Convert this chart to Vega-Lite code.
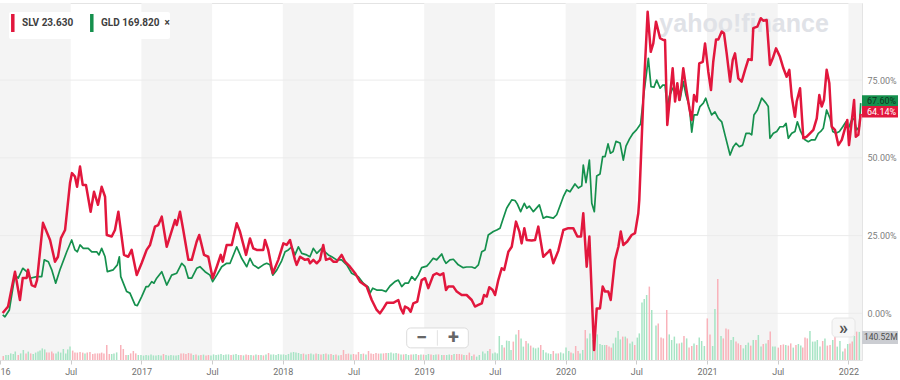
{
"$schema": "https://vega.github.io/schema/vega-lite/v6.json",
"width": 862, "height": 357,
"autosize": {"type": "none"},
"padding": {"left": 0, "top": 3, "right": 38, "bottom": 20},
"background": "white",
"config": {"view": {"stroke": "#e4e4e4"}, "font": "Roboto", "scale": {"continuousPadding": 0}},
"datasets": {
"bands": [{"t":2016,"t2":2016.5},{"t":2017,"t2":2017.5},{"t":2018,"t2":2018.5},{"t":2019,"t2":2019.5},{"t":2020,"t2":2020.5},{"t":2021,"t2":2021.5},{"t":2022,"t2":2022.5}],
"grid": [{"p":0},{"p":25},{"p":50},{"p":75}],
"tags": [{"s":"GLD","t":2022.096,"p":67.6,"label":"67.60%"},{"s":"SLV","t":2022.096,"p":64.14,"label":"64.14%"}],
"voltag": [{"t":2022.096,"v":140.52,"label":"140.52M"}],
"px": [
{"s":"SLV","t":2016.019,"p":0.1},{"s":"SLV","t":2016.057,"p":2.2},{"s":"SLV","t":2016.106,"p":13.4},{"s":"SLV","t":2016.141,"p":4.3},{"s":"SLV","t":2016.161,"p":11.4},{"s":"SLV","t":2016.189,"p":11.4},{"s":"SLV","t":2016.198,"p":14.0},{"s":"SLV","t":2016.224,"p":9.1},{"s":"SLV","t":2016.248,"p":8.6},{"s":"SLV","t":2016.262,"p":10.7},{"s":"SLV","t":2016.304,"p":29.1},{"s":"SLV","t":2016.354,"p":23.6},{"s":"SLV","t":2016.389,"p":16.6},{"s":"SLV","t":2016.410,"p":18.2},{"s":"SLV","t":2016.431,"p":24.2},{"s":"SLV","t":2016.460,"p":26.8},{"s":"SLV","t":2016.495,"p":41.9},{"s":"SLV","t":2016.509,"p":45.1},{"s":"SLV","t":2016.530,"p":44.0},{"s":"SLV","t":2016.545,"p":40.7},{"s":"SLV","t":2016.566,"p":47.2},{"s":"SLV","t":2016.585,"p":41.3},{"s":"SLV","t":2016.608,"p":41.3},{"s":"SLV","t":2016.641,"p":32.7},{"s":"SLV","t":2016.665,"p":39.1},{"s":"SLV","t":2016.693,"p":34.9},{"s":"SLV","t":2016.719,"p":40.7},{"s":"SLV","t":2016.743,"p":37.5},{"s":"SLV","t":2016.755,"p":25.2},{"s":"SLV","t":2016.790,"p":24.7},{"s":"SLV","t":2016.813,"p":26.8},{"s":"SLV","t":2016.837,"p":32.7},{"s":"SLV","t":2016.877,"p":18.8},{"s":"SLV","t":2016.907,"p":18.2},{"s":"SLV","t":2016.931,"p":20.4},{"s":"SLV","t":2016.967,"p":12.3},{"s":"SLV","t":2017.002,"p":16.2},{"s":"SLV","t":2017.037,"p":20.4},{"s":"SLV","t":2017.061,"p":22.0},{"s":"SLV","t":2017.096,"p":27.9},{"s":"SLV","t":2017.119,"p":28.4},{"s":"SLV","t":2017.144,"p":31.1},{"s":"SLV","t":2017.179,"p":21.4},{"s":"SLV","t":2017.238,"p":30.0},{"s":"SLV","t":2017.250,"p":28.4},{"s":"SLV","t":2017.273,"p":32.7},{"s":"SLV","t":2017.296,"p":26.8},{"s":"SLV","t":2017.332,"p":17.2},{"s":"SLV","t":2017.356,"p":17.2},{"s":"SLV","t":2017.391,"p":23.1},{"s":"SLV","t":2017.409,"p":25.2},{"s":"SLV","t":2017.443,"p":18.8},{"s":"SLV","t":2017.473,"p":18.2},{"s":"SLV","t":2017.504,"p":11.3},{"s":"SLV","t":2017.533,"p":15.0},{"s":"SLV","t":2017.561,"p":18.8},{"s":"SLV","t":2017.575,"p":16.6},{"s":"SLV","t":2017.603,"p":22.0},{"s":"SLV","t":2017.639,"p":22.0},{"s":"SLV","t":2017.674,"p":29.0},{"s":"SLV","t":2017.697,"p":26.3},{"s":"SLV","t":2017.740,"p":18.8},{"s":"SLV","t":2017.768,"p":24.1},{"s":"SLV","t":2017.791,"p":20.9},{"s":"SLV","t":2017.815,"p":20.4},{"s":"SLV","t":2017.862,"p":20.4},{"s":"SLV","t":2017.874,"p":23.6},{"s":"SLV","t":2017.897,"p":20.4},{"s":"SLV","t":2017.929,"p":12.9},{"s":"SLV","t":2017.968,"p":17.2},{"s":"SLV","t":2018.004,"p":22.5},{"s":"SLV","t":2018.028,"p":22.0},{"s":"SLV","t":2018.051,"p":23.6},{"s":"SLV","t":2018.063,"p":21.4},{"s":"SLV","t":2018.086,"p":17.2},{"s":"SLV","t":2018.098,"p":15.6},{"s":"SLV","t":2018.122,"p":18.2},{"s":"SLV","t":2018.157,"p":17.2},{"s":"SLV","t":2018.180,"p":17.5},{"s":"SLV","t":2018.192,"p":16.1},{"s":"SLV","t":2018.216,"p":17.2},{"s":"SLV","t":2018.240,"p":16.1},{"s":"SLV","t":2018.263,"p":17.2},{"s":"SLV","t":2018.286,"p":22.0},{"s":"SLV","t":2018.305,"p":17.2},{"s":"SLV","t":2018.334,"p":17.7},{"s":"SLV","t":2018.357,"p":16.6},{"s":"SLV","t":2018.381,"p":16.6},{"s":"SLV","t":2018.416,"p":18.8},{"s":"SLV","t":2018.440,"p":16.6},{"s":"SLV","t":2018.475,"p":15.0},{"s":"SLV","t":2018.511,"p":12.9},{"s":"SLV","t":2018.546,"p":10.2},{"s":"SLV","t":2018.593,"p":8.6},{"s":"SLV","t":2018.629,"p":4.3},{"s":"SLV","t":2018.664,"p":1.1},{"s":"SLV","t":2018.687,"p":0.0},{"s":"SLV","t":2018.711,"p":1.6},{"s":"SLV","t":2018.735,"p":3.4},{"s":"SLV","t":2018.781,"p":3.4},{"s":"SLV","t":2018.817,"p":4.3},{"s":"SLV","t":2018.834,"p":1.6},{"s":"SLV","t":2018.852,"p":0.0},{"s":"SLV","t":2018.864,"p":2.2},{"s":"SLV","t":2018.888,"p":1.6},{"s":"SLV","t":2018.904,"p":0.5},{"s":"SLV","t":2018.923,"p":3.2},{"s":"SLV","t":2018.951,"p":3.8},{"s":"SLV","t":2018.982,"p":10.7},{"s":"SLV","t":2019.006,"p":11.3},{"s":"SLV","t":2019.029,"p":8.1},{"s":"SLV","t":2019.064,"p":12.3},{"s":"SLV","t":2019.088,"p":12.9},{"s":"SLV","t":2019.112,"p":12.3},{"s":"SLV","t":2019.135,"p":12.9},{"s":"SLV","t":2019.154,"p":7.5},{"s":"SLV","t":2019.170,"p":8.6},{"s":"SLV","t":2019.206,"p":8.6},{"s":"SLV","t":2019.230,"p":7.0},{"s":"SLV","t":2019.265,"p":5.9},{"s":"SLV","t":2019.300,"p":5.9},{"s":"SLV","t":2019.336,"p":4.3},{"s":"SLV","t":2019.359,"p":2.2},{"s":"SLV","t":2019.383,"p":2.7},{"s":"SLV","t":2019.407,"p":3.2},{"s":"SLV","t":2019.423,"p":5.9},{"s":"SLV","t":2019.442,"p":5.4},{"s":"SLV","t":2019.460,"p":8.4},{"s":"SLV","t":2019.484,"p":7.5},{"s":"SLV","t":2019.501,"p":5.9},{"s":"SLV","t":2019.524,"p":10.7},{"s":"SLV","t":2019.548,"p":14.5},{"s":"SLV","t":2019.566,"p":14.0},{"s":"SLV","t":2019.595,"p":19.8},{"s":"SLV","t":2019.619,"p":21.4},{"s":"SLV","t":2019.649,"p":29.5},{"s":"SLV","t":2019.673,"p":26.3},{"s":"SLV","t":2019.689,"p":22.5},{"s":"SLV","t":2019.708,"p":27.4},{"s":"SLV","t":2019.725,"p":23.6},{"s":"SLV","t":2019.760,"p":23.4},{"s":"SLV","t":2019.784,"p":23.6},{"s":"SLV","t":2019.807,"p":27.9},{"s":"SLV","t":2019.842,"p":18.2},{"s":"SLV","t":2019.878,"p":19.8},{"s":"SLV","t":2019.890,"p":20.4},{"s":"SLV","t":2019.913,"p":16.1},{"s":"SLV","t":2019.948,"p":20.1},{"s":"SLV","t":2019.984,"p":26.8},{"s":"SLV","t":2020.019,"p":27.4},{"s":"SLV","t":2020.054,"p":27.4},{"s":"SLV","t":2020.083,"p":24.7},{"s":"SLV","t":2020.109,"p":24.7},{"s":"SLV","t":2020.125,"p":32.2},{"s":"SLV","t":2020.149,"p":15.0},{"s":"SLV","t":2020.168,"p":24.7},{"s":"SLV","t":2020.201,"p":-11.8},{"s":"SLV","t":2020.220,"p":1.6},{"s":"SLV","t":2020.243,"p":1.6},{"s":"SLV","t":2020.262,"p":8.6},{"s":"SLV","t":2020.279,"p":7.0},{"s":"SLV","t":2020.302,"p":7.0},{"s":"SLV","t":2020.319,"p":4.3},{"s":"SLV","t":2020.349,"p":17.2},{"s":"SLV","t":2020.373,"p":21.4},{"s":"SLV","t":2020.390,"p":26.3},{"s":"SLV","t":2020.408,"p":22.0},{"s":"SLV","t":2020.436,"p":23.1},{"s":"SLV","t":2020.467,"p":25.2},{"s":"SLV","t":2020.491,"p":25.8},{"s":"SLV","t":2020.514,"p":32.2},{"s":"SLV","t":2020.521,"p":36.5},{"s":"SLV","t":2020.549,"p":68.6},{"s":"SLV","t":2020.580,"p":97.0},{"s":"SLV","t":2020.602,"p":84.1},{"s":"SLV","t":2020.620,"p":86.8},{"s":"SLV","t":2020.639,"p":93.8},{"s":"SLV","t":2020.668,"p":88.5},{"s":"SLV","t":2020.691,"p":87.9},{"s":"SLV","t":2020.703,"p":87.9},{"s":"SLV","t":2020.719,"p":60.6},{"s":"SLV","t":2020.738,"p":69.7},{"s":"SLV","t":2020.757,"p":78.8},{"s":"SLV","t":2020.774,"p":68.1},{"s":"SLV","t":2020.790,"p":74.0},{"s":"SLV","t":2020.804,"p":68.6},{"s":"SLV","t":2020.816,"p":71.8},{"s":"SLV","t":2020.832,"p":78.8},{"s":"SLV","t":2020.851,"p":72.9},{"s":"SLV","t":2020.875,"p":65.9},{"s":"SLV","t":2020.892,"p":62.2},{"s":"SLV","t":2020.908,"p":70.2},{"s":"SLV","t":2020.927,"p":68.1},{"s":"SLV","t":2020.945,"p":80.4},{"s":"SLV","t":2020.970,"p":80.9},{"s":"SLV","t":2020.986,"p":86.8},{"s":"SLV","t":2021.009,"p":77.7},{"s":"SLV","t":2021.028,"p":71.8},{"s":"SLV","t":2021.044,"p":80.9},{"s":"SLV","t":2021.064,"p":88.1},{"s":"SLV","t":2021.080,"p":88.1},{"s":"SLV","t":2021.104,"p":90.6},{"s":"SLV","t":2021.120,"p":90.1},{"s":"SLV","t":2021.139,"p":83.6},{"s":"SLV","t":2021.163,"p":74.5},{"s":"SLV","t":2021.182,"p":81.5},{"s":"SLV","t":2021.198,"p":83.6},{"s":"SLV","t":2021.221,"p":75.6},{"s":"SLV","t":2021.245,"p":74.5},{"s":"SLV","t":2021.269,"p":78.3},{"s":"SLV","t":2021.292,"p":81.7},{"s":"SLV","t":2021.316,"p":81.5},{"s":"SLV","t":2021.327,"p":91.7},{"s":"SLV","t":2021.356,"p":92.2},{"s":"SLV","t":2021.380,"p":94.9},{"s":"SLV","t":2021.398,"p":94.1},{"s":"SLV","t":2021.422,"p":94.3},{"s":"SLV","t":2021.445,"p":79.9},{"s":"SLV","t":2021.465,"p":82.0},{"s":"SLV","t":2021.488,"p":85.2},{"s":"SLV","t":2021.516,"p":82.5},{"s":"SLV","t":2021.540,"p":78.8},{"s":"SLV","t":2021.563,"p":76.1},{"s":"SLV","t":2021.582,"p":78.3},{"s":"SLV","t":2021.599,"p":69.7},{"s":"SLV","t":2021.622,"p":63.2},{"s":"SLV","t":2021.634,"p":68.1},{"s":"SLV","t":2021.658,"p":72.4},{"s":"SLV","t":2021.681,"p":56.3},{"s":"SLV","t":2021.705,"p":56.8},{"s":"SLV","t":2021.728,"p":57.9},{"s":"SLV","t":2021.752,"p":59.0},{"s":"SLV","t":2021.776,"p":62.7},{"s":"SLV","t":2021.794,"p":70.2},{"s":"SLV","t":2021.811,"p":66.5},{"s":"SLV","t":2021.827,"p":68.6},{"s":"SLV","t":2021.846,"p":78.3},{"s":"SLV","t":2021.865,"p":74.0},{"s":"SLV","t":2021.882,"p":60.0},{"s":"SLV","t":2021.905,"p":59.0},{"s":"SLV","t":2021.929,"p":54.1},{"s":"SLV","t":2021.953,"p":55.8},{"s":"SLV","t":2021.976,"p":59.5},{"s":"SLV","t":2021.992,"p":62.2},{"s":"SLV","t":2022.004,"p":54.1},{"s":"SLV","t":2022.023,"p":61.6},{"s":"SLV","t":2022.040,"p":68.6},{"s":"SLV","t":2022.052,"p":56.8},{"s":"SLV","t":2022.070,"p":57.4},{"s":"SLV","t":2022.087,"p":64.14},
{"s":"GLD","t":2016.019,"p":-0.5},{"s":"GLD","t":2016.035,"p":-1.1},{"s":"GLD","t":2016.066,"p":1.1},{"s":"GLD","t":2016.106,"p":12.3},{"s":"GLD","t":2016.129,"p":11.3},{"s":"GLD","t":2016.161,"p":14.5},{"s":"GLD","t":2016.189,"p":13.4},{"s":"GLD","t":2016.212,"p":11.3},{"s":"GLD","t":2016.260,"p":11.8},{"s":"GLD","t":2016.295,"p":11.8},{"s":"GLD","t":2016.313,"p":17.2},{"s":"GLD","t":2016.342,"p":16.6},{"s":"GLD","t":2016.366,"p":14.0},{"s":"GLD","t":2016.394,"p":9.7},{"s":"GLD","t":2016.424,"p":14.0},{"s":"GLD","t":2016.472,"p":19.8},{"s":"GLD","t":2016.507,"p":23.6},{"s":"GLD","t":2016.530,"p":20.4},{"s":"GLD","t":2016.547,"p":19.8},{"s":"GLD","t":2016.566,"p":22.0},{"s":"GLD","t":2016.589,"p":20.9},{"s":"GLD","t":2016.624,"p":20.9},{"s":"GLD","t":2016.649,"p":19.8},{"s":"GLD","t":2016.684,"p":19.8},{"s":"GLD","t":2016.700,"p":18.8},{"s":"GLD","t":2016.719,"p":20.9},{"s":"GLD","t":2016.743,"p":18.2},{"s":"GLD","t":2016.759,"p":13.4},{"s":"GLD","t":2016.801,"p":14.0},{"s":"GLD","t":2016.830,"p":15.6},{"s":"GLD","t":2016.844,"p":18.2},{"s":"GLD","t":2016.854,"p":11.8},{"s":"GLD","t":2016.896,"p":7.0},{"s":"GLD","t":2016.919,"p":6.5},{"s":"GLD","t":2016.955,"p":2.7},{"s":"GLD","t":2016.971,"p":2.5},{"s":"GLD","t":2017.002,"p":5.4},{"s":"GLD","t":2017.033,"p":8.6},{"s":"GLD","t":2017.049,"p":8.6},{"s":"GLD","t":2017.073,"p":10.2},{"s":"GLD","t":2017.089,"p":9.7},{"s":"GLD","t":2017.108,"p":11.3},{"s":"GLD","t":2017.144,"p":13.4},{"s":"GLD","t":2017.179,"p":9.1},{"s":"GLD","t":2017.214,"p":12.3},{"s":"GLD","t":2017.250,"p":12.9},{"s":"GLD","t":2017.285,"p":16.1},{"s":"GLD","t":2017.308,"p":15.0},{"s":"GLD","t":2017.332,"p":11.3},{"s":"GLD","t":2017.356,"p":11.3},{"s":"GLD","t":2017.391,"p":14.5},{"s":"GLD","t":2017.414,"p":15.0},{"s":"GLD","t":2017.450,"p":13.4},{"s":"GLD","t":2017.485,"p":12.3},{"s":"GLD","t":2017.504,"p":10.2},{"s":"GLD","t":2017.533,"p":12.3},{"s":"GLD","t":2017.568,"p":15.0},{"s":"GLD","t":2017.603,"p":16.1},{"s":"GLD","t":2017.627,"p":16.1},{"s":"GLD","t":2017.674,"p":21.4},{"s":"GLD","t":2017.709,"p":17.7},{"s":"GLD","t":2017.745,"p":15.0},{"s":"GLD","t":2017.768,"p":17.7},{"s":"GLD","t":2017.791,"p":15.6},{"s":"GLD","t":2017.827,"p":14.5},{"s":"GLD","t":2017.862,"p":15.6},{"s":"GLD","t":2017.886,"p":16.1},{"s":"GLD","t":2017.909,"p":15.6},{"s":"GLD","t":2017.929,"p":12.3},{"s":"GLD","t":2017.957,"p":13.9},{"s":"GLD","t":2017.992,"p":16.9},{"s":"GLD","t":2018.016,"p":19.8},{"s":"GLD","t":2018.039,"p":20.4},{"s":"GLD","t":2018.063,"p":21.4},{"s":"GLD","t":2018.086,"p":18.8},{"s":"GLD","t":2018.110,"p":21.4},{"s":"GLD","t":2018.134,"p":19.3},{"s":"GLD","t":2018.169,"p":18.8},{"s":"GLD","t":2018.192,"p":18.2},{"s":"GLD","t":2018.216,"p":20.9},{"s":"GLD","t":2018.240,"p":19.3},{"s":"GLD","t":2018.275,"p":20.9},{"s":"GLD","t":2018.298,"p":19.8},{"s":"GLD","t":2018.322,"p":18.8},{"s":"GLD","t":2018.346,"p":18.2},{"s":"GLD","t":2018.381,"p":17.2},{"s":"GLD","t":2018.416,"p":17.2},{"s":"GLD","t":2018.452,"p":15.6},{"s":"GLD","t":2018.487,"p":12.9},{"s":"GLD","t":2018.534,"p":11.8},{"s":"GLD","t":2018.569,"p":9.7},{"s":"GLD","t":2018.605,"p":8.4},{"s":"GLD","t":2018.617,"p":6.5},{"s":"GLD","t":2018.636,"p":8.1},{"s":"GLD","t":2018.664,"p":7.5},{"s":"GLD","t":2018.699,"p":7.5},{"s":"GLD","t":2018.730,"p":7.0},{"s":"GLD","t":2018.758,"p":8.8},{"s":"GLD","t":2018.793,"p":10.2},{"s":"GLD","t":2018.817,"p":10.7},{"s":"GLD","t":2018.841,"p":8.6},{"s":"GLD","t":2018.864,"p":9.7},{"s":"GLD","t":2018.888,"p":9.7},{"s":"GLD","t":2018.912,"p":11.8},{"s":"GLD","t":2018.935,"p":10.7},{"s":"GLD","t":2018.958,"p":12.3},{"s":"GLD","t":2018.982,"p":14.7},{"s":"GLD","t":2019.018,"p":15.2},{"s":"GLD","t":2019.036,"p":16.1},{"s":"GLD","t":2019.064,"p":17.7},{"s":"GLD","t":2019.088,"p":17.2},{"s":"GLD","t":2019.124,"p":19.1},{"s":"GLD","t":2019.140,"p":17.2},{"s":"GLD","t":2019.154,"p":16.1},{"s":"GLD","t":2019.182,"p":17.2},{"s":"GLD","t":2019.206,"p":17.4},{"s":"GLD","t":2019.241,"p":15.6},{"s":"GLD","t":2019.276,"p":14.7},{"s":"GLD","t":2019.300,"p":14.9},{"s":"GLD","t":2019.336,"p":14.9},{"s":"GLD","t":2019.359,"p":14.5},{"s":"GLD","t":2019.383,"p":15.6},{"s":"GLD","t":2019.407,"p":19.8},{"s":"GLD","t":2019.430,"p":20.4},{"s":"GLD","t":2019.453,"p":25.2},{"s":"GLD","t":2019.489,"p":26.3},{"s":"GLD","t":2019.513,"p":26.8},{"s":"GLD","t":2019.536,"p":27.4},{"s":"GLD","t":2019.555,"p":30.0},{"s":"GLD","t":2019.583,"p":33.8},{"s":"GLD","t":2019.619,"p":36.5},{"s":"GLD","t":2019.642,"p":36.3},{"s":"GLD","t":2019.658,"p":35.2},{"s":"GLD","t":2019.682,"p":32.7},{"s":"GLD","t":2019.708,"p":35.4},{"s":"GLD","t":2019.725,"p":33.8},{"s":"GLD","t":2019.743,"p":34.5},{"s":"GLD","t":2019.772,"p":32.7},{"s":"GLD","t":2019.814,"p":34.9},{"s":"GLD","t":2019.842,"p":30.6},{"s":"GLD","t":2019.866,"p":31.1},{"s":"GLD","t":2019.913,"p":30.6},{"s":"GLD","t":2019.937,"p":31.7},{"s":"GLD","t":2019.984,"p":37.5},{"s":"GLD","t":2020.008,"p":39.7},{"s":"GLD","t":2020.031,"p":39.1},{"s":"GLD","t":2020.066,"p":41.6},{"s":"GLD","t":2020.090,"p":40.3},{"s":"GLD","t":2020.114,"p":41.0},{"s":"GLD","t":2020.125,"p":47.7},{"s":"GLD","t":2020.144,"p":42.0},{"s":"GLD","t":2020.168,"p":49.3},{"s":"GLD","t":2020.185,"p":35.4},{"s":"GLD","t":2020.203,"p":32.7},{"s":"GLD","t":2020.220,"p":44.2},{"s":"GLD","t":2020.243,"p":44.8},{"s":"GLD","t":2020.262,"p":50.4},{"s":"GLD","t":2020.279,"p":50.4},{"s":"GLD","t":2020.300,"p":54.5},{"s":"GLD","t":2020.317,"p":51.5},{"s":"GLD","t":2020.335,"p":52.0},{"s":"GLD","t":2020.356,"p":55.3},{"s":"GLD","t":2020.385,"p":54.8},{"s":"GLD","t":2020.408,"p":49.3},{"s":"GLD","t":2020.427,"p":53.8},{"s":"GLD","t":2020.452,"p":56.1},{"s":"GLD","t":2020.477,"p":57.9},{"s":"GLD","t":2020.501,"p":59.0},{"s":"GLD","t":2020.530,"p":60.9},{"s":"GLD","t":2020.554,"p":70.8},{"s":"GLD","t":2020.585,"p":82.0},{"s":"GLD","t":2020.604,"p":72.9},{"s":"GLD","t":2020.625,"p":72.7},{"s":"GLD","t":2020.644,"p":75.0},{"s":"GLD","t":2020.668,"p":72.4},{"s":"GLD","t":2020.687,"p":73.4},{"s":"GLD","t":2020.703,"p":73.4},{"s":"GLD","t":2020.719,"p":65.9},{"s":"GLD","t":2020.733,"p":69.7},{"s":"GLD","t":2020.757,"p":72.4},{"s":"GLD","t":2020.774,"p":71.3},{"s":"GLD","t":2020.797,"p":71.8},{"s":"GLD","t":2020.809,"p":68.6},{"s":"GLD","t":2020.832,"p":74.5},{"s":"GLD","t":2020.851,"p":70.2},{"s":"GLD","t":2020.875,"p":66.5},{"s":"GLD","t":2020.892,"p":58.3},{"s":"GLD","t":2020.908,"p":63.8},{"s":"GLD","t":2020.931,"p":63.8},{"s":"GLD","t":2020.950,"p":66.5},{"s":"GLD","t":2020.974,"p":67.6},{"s":"GLD","t":2020.991,"p":69.2},{"s":"GLD","t":2021.009,"p":66.5},{"s":"GLD","t":2021.033,"p":63.8},{"s":"GLD","t":2021.056,"p":64.8},{"s":"GLD","t":2021.080,"p":62.7},{"s":"GLD","t":2021.104,"p":61.6},{"s":"GLD","t":2021.127,"p":57.4},{"s":"GLD","t":2021.163,"p":50.9},{"s":"GLD","t":2021.186,"p":53.6},{"s":"GLD","t":2021.205,"p":54.7},{"s":"GLD","t":2021.228,"p":53.6},{"s":"GLD","t":2021.252,"p":54.1},{"s":"GLD","t":2021.276,"p":57.9},{"s":"GLD","t":2021.299,"p":57.9},{"s":"GLD","t":2021.316,"p":57.4},{"s":"GLD","t":2021.332,"p":63.8},{"s":"GLD","t":2021.356,"p":65.4},{"s":"GLD","t":2021.387,"p":69.2},{"s":"GLD","t":2021.417,"p":67.6},{"s":"GLD","t":2021.433,"p":66.5},{"s":"GLD","t":2021.445,"p":56.3},{"s":"GLD","t":2021.469,"p":57.9},{"s":"GLD","t":2021.493,"p":58.5},{"s":"GLD","t":2021.516,"p":60.0},{"s":"GLD","t":2021.540,"p":60.0},{"s":"GLD","t":2021.559,"p":61.1},{"s":"GLD","t":2021.575,"p":56.3},{"s":"GLD","t":2021.599,"p":57.9},{"s":"GLD","t":2021.622,"p":58.5},{"s":"GLD","t":2021.639,"p":61.6},{"s":"GLD","t":2021.662,"p":58.5},{"s":"GLD","t":2021.693,"p":55.8},{"s":"GLD","t":2021.716,"p":55.2},{"s":"GLD","t":2021.740,"p":55.8},{"s":"GLD","t":2021.764,"p":55.8},{"s":"GLD","t":2021.787,"p":57.9},{"s":"GLD","t":2021.804,"p":58.5},{"s":"GLD","t":2021.822,"p":59.5},{"s":"GLD","t":2021.846,"p":65.4},{"s":"GLD","t":2021.870,"p":62.7},{"s":"GLD","t":2021.889,"p":58.5},{"s":"GLD","t":2021.912,"p":57.9},{"s":"GLD","t":2021.936,"p":58.5},{"s":"GLD","t":2021.960,"p":60.0},{"s":"GLD","t":2021.983,"p":61.6},{"s":"GLD","t":2022.000,"p":59.5},{"s":"GLD","t":2022.023,"p":62.2},{"s":"GLD","t":2022.040,"p":62.7},{"s":"GLD","t":2022.058,"p":59.0},{"s":"GLD","t":2022.077,"p":60.0},{"s":"GLD","t":2022.087,"p":67.6}
],
"vol": [
{"t":2016.023,"v":20,"c":"d"},{"t":2016.042,"v":25,"c":"u"},{"t":2016.059,"v":25,"c":"u"},{"t":2016.076,"v":33,"c":"u"},{"t":2016.094,"v":30,"c":"u"},{"t":2016.108,"v":42,"c":"u"},{"t":2016.129,"v":25,"c":"d"},{"t":2016.146,"v":33,"c":"u"},{"t":2016.165,"v":50,"c":"u"},{"t":2016.184,"v":33,"c":"d"},{"t":2016.200,"v":42,"c":"u"},{"t":2016.217,"v":33,"c":"d"},{"t":2016.235,"v":30,"c":"u"},{"t":2016.252,"v":37,"c":"u"},{"t":2016.269,"v":42,"c":"u"},{"t":2016.283,"v":47,"c":"u"},{"t":2016.299,"v":58,"c":"u"},{"t":2016.316,"v":53,"c":"u"},{"t":2016.330,"v":38,"c":"d"},{"t":2016.347,"v":37,"c":"d"},{"t":2016.366,"v":42,"c":"d"},{"t":2016.377,"v":33,"c":"d"},{"t":2016.396,"v":33,"c":"u"},{"t":2016.412,"v":42,"c":"u"},{"t":2016.429,"v":37,"c":"u"},{"t":2016.448,"v":55,"c":"u"},{"t":2016.465,"v":33,"c":"u"},{"t":2016.479,"v":53,"c":"u"},{"t":2016.495,"v":67,"c":"u"},{"t":2016.514,"v":47,"c":"d"},{"t":2016.530,"v":37,"c":"d"},{"t":2016.547,"v":37,"c":"d"},{"t":2016.566,"v":40,"c":"d"},{"t":2016.585,"v":37,"c":"d"},{"t":2016.601,"v":33,"c":"u"},{"t":2016.617,"v":37,"c":"d"},{"t":2016.636,"v":40,"c":"d"},{"t":2016.656,"v":30,"c":"d"},{"t":2016.672,"v":33,"c":"d"},{"t":2016.690,"v":33,"c":"d"},{"t":2016.705,"v":33,"c":"d"},{"t":2016.719,"v":37,"c":"d"},{"t":2016.735,"v":33,"c":"d"},{"t":2016.755,"v":75,"c":"d"},{"t":2016.773,"v":30,"c":"d"},{"t":2016.790,"v":30,"c":"u"},{"t":2016.806,"v":33,"c":"u"},{"t":2016.825,"v":38,"c":"u"},{"t":2016.854,"v":75,"c":"d"},{"t":2016.872,"v":55,"c":"d"},{"t":2016.891,"v":25,"c":"d"},{"t":2016.907,"v":25,"c":"u"},{"t":2016.924,"v":33,"c":"d"},{"t":2016.943,"v":45,"c":"d"},{"t":2016.960,"v":33,"c":"d"},{"t":2016.978,"v":25,"c":"u"},
{"t":2016.997,"v":25,"c":"u"},{"t":2017.015,"v":22,"c":"u"},{"t":2017.033,"v":25,"c":"u"},{"t":2017.050,"v":23,"c":"u"},{"t":2017.068,"v":27,"c":"u"},{"t":2017.085,"v":23,"c":"u"},{"t":2017.103,"v":22,"c":"u"},{"t":2017.121,"v":25,"c":"u"},{"t":2017.139,"v":23,"c":"u"},{"t":2017.156,"v":30,"c":"d"},{"t":2017.174,"v":25,"c":"u"},{"t":2017.192,"v":22,"c":"u"},{"t":2017.209,"v":25,"c":"u"},{"t":2017.227,"v":23,"c":"u"},{"t":2017.245,"v":22,"c":"u"},{"t":2017.262,"v":25,"c":"u"},{"t":2017.280,"v":32,"c":"d"},{"t":2017.298,"v":33,"c":"d"},{"t":2017.315,"v":30,"c":"d"},{"t":2017.333,"v":35,"c":"d"},{"t":2017.351,"v":32,"c":"d"},{"t":2017.368,"v":25,"c":"u"},{"t":2017.386,"v":27,"c":"d"},{"t":2017.404,"v":23,"c":"u"},{"t":2017.421,"v":25,"c":"d"},{"t":2017.439,"v":27,"c":"u"},{"t":2017.457,"v":23,"c":"d"},{"t":2017.474,"v":25,"c":"d"},{"t":2017.492,"v":23,"c":"u"},{"t":2017.510,"v":28,"c":"u"},{"t":2017.528,"v":25,"c":"u"},{"t":2017.545,"v":27,"c":"u"},{"t":2017.563,"v":30,"c":"u"},{"t":2017.581,"v":25,"c":"u"},{"t":2017.598,"v":27,"c":"u"},{"t":2017.616,"v":28,"c":"u"},{"t":2017.634,"v":25,"c":"d"},{"t":2017.651,"v":27,"c":"u"},{"t":2017.669,"v":30,"c":"u"},{"t":2017.687,"v":25,"c":"u"},{"t":2017.704,"v":25,"c":"d"},{"t":2017.722,"v":23,"c":"u"},{"t":2017.740,"v":27,"c":"d"},{"t":2017.757,"v":25,"c":"d"},{"t":2017.775,"v":25,"c":"u"},{"t":2017.793,"v":23,"c":"d"},{"t":2017.810,"v":27,"c":"u"},{"t":2017.828,"v":25,"c":"d"},{"t":2017.846,"v":25,"c":"u"},{"t":2017.863,"v":23,"c":"d"},{"t":2017.881,"v":27,"c":"u"},{"t":2017.899,"v":35,"c":"d"},{"t":2017.916,"v":27,"c":"u"},{"t":2017.934,"v":28,"c":"u"},{"t":2017.952,"v":25,"c":"u"},{"t":2017.969,"v":30,"c":"u"},{"t":2017.987,"v":27,"c":"u"},{"t":2018.005,"v":28,"c":"u"},{"t":2018.022,"v":25,"c":"u"},{"t":2018.040,"v":30,"c":"u"},{"t":2018.058,"v":37,"c":"u"},{"t":2018.076,"v":40,"c":"u"},{"t":2018.093,"v":38,"c":"u"},{"t":2018.111,"v":35,"c":"u"},{"t":2018.129,"v":30,"c":"u"},{"t":2018.146,"v":32,"c":"d"},{"t":2018.164,"v":28,"c":"u"},{"t":2018.182,"v":30,"c":"d"},{"t":2018.199,"v":32,"c":"u"},{"t":2018.217,"v":28,"c":"u"},{"t":2018.235,"v":33,"c":"d"},{"t":2018.252,"v":30,"c":"u"},{"t":2018.270,"v":28,"c":"d"},{"t":2018.288,"v":30,"c":"u"},{"t":2018.305,"v":32,"c":"d"},{"t":2018.323,"v":28,"c":"u"},{"t":2018.341,"v":30,"c":"d"},{"t":2018.358,"v":25,"c":"u"},{"t":2018.376,"v":27,"c":"d"},{"t":2018.394,"v":23,"c":"u"},{"t":2018.412,"v":25,"c":"d"},{"t":2018.429,"v":50,"c":"d"},{"t":2018.447,"v":30,"c":"d"},{"t":2018.464,"v":32,"c":"d"},{"t":2018.482,"v":28,"c":"u"},{"t":2018.500,"v":30,"c":"d"},{"t":2018.518,"v":28,"c":"d"},{"t":2018.535,"v":40,"c":"d"},{"t":2018.553,"v":30,"c":"u"},{"t":2018.570,"v":32,"c":"d"},{"t":2018.588,"v":28,"c":"u"},{"t":2018.606,"v":45,"c":"d"},{"t":2018.624,"v":33,"c":"d"},{"t":2018.641,"v":30,"c":"d"},{"t":2018.659,"v":35,"c":"d"},{"t":2018.677,"v":32,"c":"d"},{"t":2018.694,"v":33,"c":"u"},{"t":2018.712,"v":33,"c":"d"},{"t":2018.730,"v":35,"c":"d"},{"t":2018.747,"v":35,"c":"u"},{"t":2018.765,"v":37,"c":"u"},{"t":2018.783,"v":33,"c":"u"},{"t":2018.801,"v":35,"c":"u"},{"t":2018.818,"v":32,"c":"d"},{"t":2018.836,"v":27,"c":"u"},{"t":2018.854,"v":28,"c":"d"},{"t":2018.871,"v":30,"c":"u"},{"t":2018.889,"v":25,"c":"u"},{"t":2018.907,"v":27,"c":"d"},{"t":2018.924,"v":28,"c":"u"},{"t":2018.942,"v":30,"c":"u"},{"t":2018.960,"v":25,"c":"d"},{"t":2018.977,"v":28,"c":"u"},{"t":2018.995,"v":27,"c":"d"},{"t":2019.013,"v":25,"c":"u"},{"t":2019.030,"v":30,"c":"u"},{"t":2019.048,"v":28,"c":"d"},{"t":2019.066,"v":25,"c":"u"},{"t":2019.083,"v":27,"c":"u"},{"t":2019.101,"v":28,"c":"d"},
{"t":2019.124,"v":25,"c":"u"},{"t":2019.140,"v":25,"c":"d"},{"t":2019.159,"v":25,"c":"u"},{"t":2019.177,"v":28,"c":"u"},{"t":2019.194,"v":25,"c":"d"},{"t":2019.211,"v":30,"c":"u"},{"t":2019.230,"v":30,"c":"d"},{"t":2019.248,"v":30,"c":"d"},{"t":2019.265,"v":28,"c":"d"},{"t":2019.281,"v":25,"c":"u"},{"t":2019.300,"v":25,"c":"d"},{"t":2019.319,"v":37,"c":"d"},{"t":2019.336,"v":20,"c":"u"},{"t":2019.352,"v":28,"c":"d"},{"t":2019.371,"v":17,"c":"u"},{"t":2019.390,"v":25,"c":"u"},{"t":2019.414,"v":42,"c":"u"},{"t":2019.430,"v":33,"c":"u"},{"t":2019.449,"v":45,"c":"u"},{"t":2019.465,"v":55,"c":"d"},{"t":2019.484,"v":33,"c":"u"},{"t":2019.501,"v":37,"c":"u"},{"t":2019.517,"v":33,"c":"u"},{"t":2019.531,"v":120,"c":"u"},{"t":2019.550,"v":75,"c":"u"},{"t":2019.566,"v":62,"c":"d"},{"t":2019.583,"v":97,"c":"u"},{"t":2019.600,"v":95,"c":"u"},{"t":2019.614,"v":50,"c":"u"},{"t":2019.630,"v":92,"c":"d"},{"t":2019.649,"v":128,"c":"u"},{"t":2019.668,"v":150,"c":"d"},{"t":2019.685,"v":108,"c":"u"},{"t":2019.701,"v":67,"c":"u"},{"t":2019.720,"v":95,"c":"d"},{"t":2019.736,"v":83,"c":"u"},{"t":2019.753,"v":72,"c":"d"},{"t":2019.772,"v":62,"c":"u"},{"t":2019.788,"v":58,"c":"u"},{"t":2019.807,"v":62,"c":"u"},{"t":2019.824,"v":75,"c":"d"},{"t":2019.842,"v":50,"c":"u"},{"t":2019.861,"v":38,"c":"u"},{"t":2019.878,"v":33,"c":"u"},{"t":2019.895,"v":30,"c":"u"},{"t":2019.913,"v":45,"c":"d"},{"t":2019.932,"v":33,"c":"u"},{"t":2019.948,"v":33,"c":"d"},{"t":2019.965,"v":38,"c":"u"},{"t":2019.984,"v":33,"c":"u"},{"t":2020.003,"v":62,"c":"u"},{"t":2020.022,"v":45,"c":"u"},{"t":2020.038,"v":38,"c":"d"},{"t":2020.054,"v":33,"c":"u"},{"t":2020.071,"v":70,"c":"d"},{"t":2020.088,"v":45,"c":"d"},{"t":2020.102,"v":33,"c":"u"},{"t":2020.121,"v":50,"c":"u"},{"t":2020.139,"v":150,"c":"d"},{"t":2020.153,"v":108,"c":"u"},{"t":2020.172,"v":133,"c":"u"},{"t":2020.192,"v":100,"c":"u"},{"t":2020.208,"v":100,"c":"d"},{"t":2020.224,"v":128,"c":"u"},{"t":2020.243,"v":80,"c":"u"},{"t":2020.259,"v":75,"c":"u"},{"t":2020.276,"v":75,"c":"u"},{"t":2020.290,"v":75,"c":"d"},{"t":2020.307,"v":67,"c":"d"},{"t":2020.323,"v":62,"c":"d"},{"t":2020.337,"v":83,"c":"u"},{"t":2020.354,"v":112,"c":"u"},{"t":2020.371,"v":145,"c":"u"},{"t":2020.387,"v":103,"c":"u"},{"t":2020.404,"v":117,"c":"d"},{"t":2020.422,"v":117,"c":"u"},{"t":2020.436,"v":108,"c":"d"},{"t":2020.455,"v":83,"c":"u"},{"t":2020.472,"v":92,"c":"u"},{"t":2020.489,"v":75,"c":"d"},{"t":2020.507,"v":112,"c":"u"},{"t":2020.521,"v":133,"c":"u"},{"t":2020.540,"v":288,"c":"u"},{"t":2020.556,"v":305,"c":"u"},{"t":2020.573,"v":325,"c":"u"},{"t":2020.592,"v":367,"c":"d"},{"t":2020.609,"v":250,"c":"u"},{"t":2020.639,"v":172,"c":"u"},{"t":2020.655,"v":183,"c":"d"},{"t":2020.675,"v":112,"c":"d"},{"t":2020.691,"v":108,"c":"d"},{"t":2020.715,"v":250,"c":"d"},{"t":2020.733,"v":128,"c":"u"},{"t":2020.750,"v":100,"c":"u"},{"t":2020.769,"v":117,"c":"u"},{"t":2020.786,"v":83,"c":"u"},{"t":2020.804,"v":83,"c":"d"},{"t":2020.821,"v":87,"c":"u"},{"t":2020.837,"v":120,"c":"d"},{"t":2020.856,"v":108,"c":"u"},{"t":2020.873,"v":62,"c":"d"},{"t":2020.892,"v":70,"c":"d"},{"t":2020.908,"v":83,"c":"u"},{"t":2020.927,"v":75,"c":"d"},{"t":2020.945,"v":112,"c":"u"},{"t":2020.962,"v":95,"c":"u"},{"t":2020.981,"v":70,"c":"u"},{"t":2021.002,"v":208,"c":"d"},{"t":2021.021,"v":128,"c":"d"},{"t":2021.040,"v":70,"c":"u"},{"t":2021.056,"v":255,"c":"u"},{"t":2021.076,"v":405,"c":"d"},{"t":2021.099,"v":120,"c":"u"},{"t":2021.115,"v":108,"c":"d"},{"t":2021.134,"v":158,"c":"d"},{"t":2021.151,"v":153,"c":"d"},{"t":2021.170,"v":100,"c":"u"},{"t":2021.186,"v":115,"c":"u"},{"t":2021.205,"v":92,"c":"d"},{"t":2021.221,"v":83,"c":"d"},{"t":2021.238,"v":75,"c":"d"},{"t":2021.257,"v":58,"c":"u"},{"t":2021.274,"v":75,"c":"u"},{"t":2021.292,"v":87,"c":"u"},{"t":2021.309,"v":72,"c":"d"},{"t":2021.327,"v":100,"c":"u"},{"t":2021.346,"v":100,"c":"d"},{"t":2021.363,"v":125,"c":"u"},{"t":2021.382,"v":67,"c":"u"},{"t":2021.398,"v":80,"c":"d"},{"t":2021.417,"v":83,"c":"u"},{"t":2021.433,"v":100,"c":"d"},{"t":2021.447,"v":142,"c":"d"},{"t":2021.465,"v":67,"c":"u"},{"t":2021.481,"v":67,"c":"u"},{"t":2021.504,"v":62,"c":"d"},{"t":2021.521,"v":75,"c":"d"},{"t":2021.540,"v":78,"c":"d"},{"t":2021.557,"v":75,"c":"u"},{"t":2021.575,"v":72,"c":"d"},{"t":2021.592,"v":83,"c":"d"},{"t":2021.610,"v":62,"c":"u"},{"t":2021.629,"v":75,"c":"d"},{"t":2021.646,"v":80,"c":"u"},{"t":2021.663,"v":72,"c":"u"},{"t":2021.677,"v":62,"c":"d"},{"t":2021.693,"v":112,"c":"d"},{"t":2021.709,"v":108,"c":"d"},{"t":2021.728,"v":145,"c":"u"},{"t":2021.747,"v":92,"c":"u"},{"t":2021.764,"v":92,"c":"u"},{"t":2021.780,"v":100,"c":"u"},{"t":2021.799,"v":67,"c":"u"},{"t":2021.818,"v":95,"c":"d"},{"t":2021.834,"v":108,"c":"u"},{"t":2021.851,"v":72,"c":"d"},{"t":2021.870,"v":75,"c":"d"},{"t":2021.889,"v":100,"c":"u"},{"t":2021.905,"v":117,"c":"d"},{"t":2021.921,"v":67,"c":"u"},{"t":2021.940,"v":95,"c":"u"},{"t":2021.960,"v":42,"c":"u"},{"t":2021.976,"v":58,"c":"d"},{"t":2021.995,"v":80,"c":"u"},{"t":2022.011,"v":83,"c":"d"},{"t":2022.027,"v":92,"c":"d"},{"t":2022.042,"v":120,"c":"u"},{"t":2022.058,"v":142,"c":"d"},{"t":2022.077,"v":140.52,"c":"u"}
]
},
"resolve": {"scale": {"y": "independent"}},
"layer": [
{"data": {"name": "bands"}, "mark": {"type": "rect", "color": "#f4f4f4", "clip": true},
 "encoding": {
  "x": {"field": "t", "type": "quantitative", "scale": {"domain": [2016, 2022.096], "nice": false, "zero": false, "padding": 0},
   "axis": {"values": [2016,2016.5,2017,2017.5,2018,2018.5,2019,2019.5,2020,2020.5,2021,2021.5,2022], "labelExpr": "datum.value == 2016 ? '16' : (datum.value % 1 == 0 ? '' + datum.value : 'Jul')", "title": null, "grid": false, "domain": false, "ticks": true, "labels": true, "tickSize": 4, "tickColor": "#cccccc", "labelColor": "#707070", "labelFontSize": 9, "labelPadding": 3, "labelFlush": true, "labelOverlap": false}},
  "x2": {"field": "t2"}}},
{"data": {"name": "grid"}, "mark": {"type": "rule", "color": "#ebebeb", "strokeWidth": 1},
 "encoding": {"y": {"field": "p", "type": "quantitative", "scale": {"domain": [-15, 99.8], "nice": false, "zero": false}, "axis": null}}},
{"data": {"values": [{}]}, "mark": {"type": "text", "text": "yahoo!finance", "font": "Liberation Sans", "fontSize": 25, "fontWeight": "bold", "color": "#e0e2e7", "align": "center", "baseline": "middle"},
 "encoding": {"x": {"datum": 2021.262, "type": "quantitative", "scale": {"domain": [2016, 2022.096], "nice": false, "zero": false, "padding": 0}},
  "y": {"datum": 93.2, "type": "quantitative", "scale": {"domain": [-15, 99.8], "nice": false, "zero": false}, "axis": null}}},
{"data": {"name": "vol"}, "mark": {"type": "bar", "width": 1.5},
 "encoding": {"x": {"field": "t", "type": "quantitative", "scale": {"domain": [2016, 2022.096], "nice": false, "zero": false, "padding": 0}},
  "y": {"field": "v", "type": "quantitative", "scale": {"domain": [0, 1785], "nice": false, "zero": true}, "axis": null},
  "fill": {"field": "c", "type": "nominal", "scale": {"domain": ["u", "d"], "range": ["#a6e4c4", "#f9b2ba"]}, "legend": null}}},
{"data": {"name": "px"}, "transform": [{"filter": "datum.s == 'GLD'"}], "mark": {"type": "line", "strokeWidth": 1.7, "strokeJoin": "round"},
 "encoding": {"x": {"field": "t", "type": "quantitative", "scale": {"domain": [2016, 2022.096], "nice": false, "zero": false, "padding": 0}},
  "y": {"field": "p", "type": "quantitative", "scale": {"domain": [-15, 99.8], "nice": false, "zero": false}, "axis": null},
  "color": {"field": "s", "type": "nominal", "scale": {"domain": ["SLV", "GLD"], "range": ["#e2173d", "#15904d"]}}}},
{"data": {"name": "px"}, "transform": [{"filter": "datum.s == 'SLV'"}], "mark": {"type": "line", "strokeWidth": 2.5, "strokeJoin": "round"},
 "encoding": {"x": {"field": "t", "type": "quantitative", "scale": {"domain": [2016, 2022.096], "nice": false, "zero": false, "padding": 0}},
  "y": {"field": "p", "type": "quantitative", "scale": {"domain": [-15, 99.8], "nice": false, "zero": false},
   "axis": {"orient": "right", "values": [0, 25, 50, 75], "labelExpr": "format(datum.value, '.2f') + '%'", "title": null, "grid": false, "ticks": false, "domain": false, "labelPadding": 5, "labelColor": "#808080", "labelFontSize": 9}},
  "color": {"field": "s", "type": "nominal", "scale": {"domain": ["SLV", "GLD"], "range": ["#e2173d", "#15904d"]},
   "legend": {"orient": "top-left", "offset": 9, "direction": "horizontal", "title": null, "fillColor": "#ffffff", "padding": 0, "cornerRadius": 2, "symbolType": "M-0.8,-1L-0.8,1", "symbolSize": 324, "symbolStrokeWidth": 3.5, "labelOffset": -9, "labelFontSize": 10, "labelFontWeight": "bold", "labelColor": "#404040", "columnPadding": 10, "labelExpr": "datum.label == 'SLV' ? 'SLV 23.630' : 'GLD 169.820\u00a0\u00a0×'"}}}},
{"data": {"name": "tags"}, "mark": {"type": "rect", "x2Offset": 36, "yOffset": -8, "y2Offset": 3.5},
 "encoding": {"x": {"field": "t", "type": "quantitative", "scale": {"domain": [2016, 2022.096], "nice": false, "zero": false, "padding": 0}}, "x2": {"field": "t"},
  "y": {"field": "p", "type": "quantitative", "scale": {"domain": [-15, 99.8], "nice": false, "zero": false}, "axis": null}, "y2": {"field": "p"},
  "color": {"field": "s", "type": "nominal"}}},
{"data": {"name": "tags"}, "mark": {"type": "text", "align": "left", "baseline": "middle", "dx": 5, "dy": -2.25, "fontSize": 9},
 "encoding": {"x": {"field": "t", "type": "quantitative", "scale": {"domain": [2016, 2022.096], "nice": false, "zero": false, "padding": 0}},
  "y": {"field": "p", "type": "quantitative", "scale": {"domain": [-15, 99.8], "nice": false, "zero": false}, "axis": null},
  "text": {"field": "label"},
  "color": {"condition": {"test": "datum.s == 'SLV'", "value": "#ffffff"}, "value": "#0f3320"}}},
{"data": {"name": "voltag"}, "mark": {"type": "rect", "color": "#cbcdd2", "x2Offset": 36, "yOffset": -1, "y2Offset": 12},
 "encoding": {"x": {"field": "t", "type": "quantitative", "scale": {"domain": [2016, 2022.096], "nice": false, "zero": false, "padding": 0}}, "x2": {"field": "t"},
  "y": {"field": "v", "type": "quantitative", "scale": {"domain": [0, 1785], "nice": false, "zero": true}, "axis": null}, "y2": {"field": "v"}}},
{"data": {"name": "voltag"}, "mark": {"type": "text", "align": "left", "baseline": "middle", "dx": 2, "dy": 5.5, "fontSize": 8.5, "color": "#4d4d4d"},
 "encoding": {"x": {"field": "t", "type": "quantitative", "scale": {"domain": [2016, 2022.096], "nice": false, "zero": false, "padding": 0}},
  "y": {"field": "v", "type": "quantitative", "scale": {"domain": [0, 1785], "nice": false, "zero": true}, "axis": null},
  "text": {"field": "label"}}},
{"data": {"values": [{}]}, "mark": {"type": "rect", "fill": "#ffffff", "stroke": "#dcdcdc", "strokeWidth": 1, "cornerRadius": 4},
 "encoding": {"x": {"datum": 2018.876, "type": "quantitative", "scale": {"domain": [2016, 2022.096], "nice": false, "zero": false, "padding": 0}}, "x2": {"datum": 2019.312},
  "y": {"datum": -4.7, "type": "quantitative", "scale": {"domain": [-15, 99.8], "nice": false, "zero": false}, "axis": null}, "y2": {"datum": -11.1}}},
{"data": {"values": [{}]}, "mark": {"type": "rule", "color": "#e3e3e3"},
 "encoding": {"x": {"datum": 2019.093, "type": "quantitative", "scale": {"domain": [2016, 2022.096], "nice": false, "zero": false, "padding": 0}},
  "y": {"datum": -5.4, "type": "quantitative", "scale": {"domain": [-15, 99.8], "nice": false, "zero": false}, "axis": null}, "y2": {"datum": -10.4}}},
{"data": {"values": [{}]}, "mark": {"type": "text", "text": "−", "fontSize": 20, "fontWeight": "bold", "color": "#666666", "align": "center", "baseline": "middle"},
 "encoding": {"x": {"datum": 2018.982, "type": "quantitative", "scale": {"domain": [2016, 2022.096], "nice": false, "zero": false, "padding": 0}},
  "y": {"datum": -7.9, "type": "quantitative", "scale": {"domain": [-15, 99.8], "nice": false, "zero": false}, "axis": null}}},
{"data": {"values": [{}]}, "mark": {"type": "text", "text": "+", "fontSize": 20, "fontWeight": "bold", "color": "#666666", "align": "center", "baseline": "middle"},
 "encoding": {"x": {"datum": 2019.206, "type": "quantitative", "scale": {"domain": [2016, 2022.096], "nice": false, "zero": false, "padding": 0}},
  "y": {"datum": -7.9, "type": "quantitative", "scale": {"domain": [-15, 99.8], "nice": false, "zero": false}, "axis": null}}},
{"data": {"values": [{}]}, "mark": {"type": "rect", "fill": "#f7f7f7", "stroke": "#e6e6e6", "strokeWidth": 1, "cornerRadius": 4},
 "encoding": {"x": {"datum": 2021.884, "type": "quantitative", "scale": {"domain": [2016, 2022.096], "nice": false, "zero": false, "padding": 0}}, "x2": {"datum": 2022.047},
  "y": {"datum": -1.5, "type": "quantitative", "scale": {"domain": [-15, 99.8], "nice": false, "zero": false}, "axis": null}, "y2": {"datum": -7.6}}},
{"data": {"values": [{}]}, "mark": {"type": "text", "text": "»", "fontSize": 18, "fontWeight": "bold", "color": "#555555", "align": "center", "baseline": "middle"},
 "encoding": {"x": {"datum": 2021.965, "type": "quantitative", "scale": {"domain": [2016, 2022.096], "nice": false, "zero": false, "padding": 0}},
  "y": {"datum": -4.9, "type": "quantitative", "scale": {"domain": [-15, 99.8], "nice": false, "zero": false}, "axis": null}}}
]
}
